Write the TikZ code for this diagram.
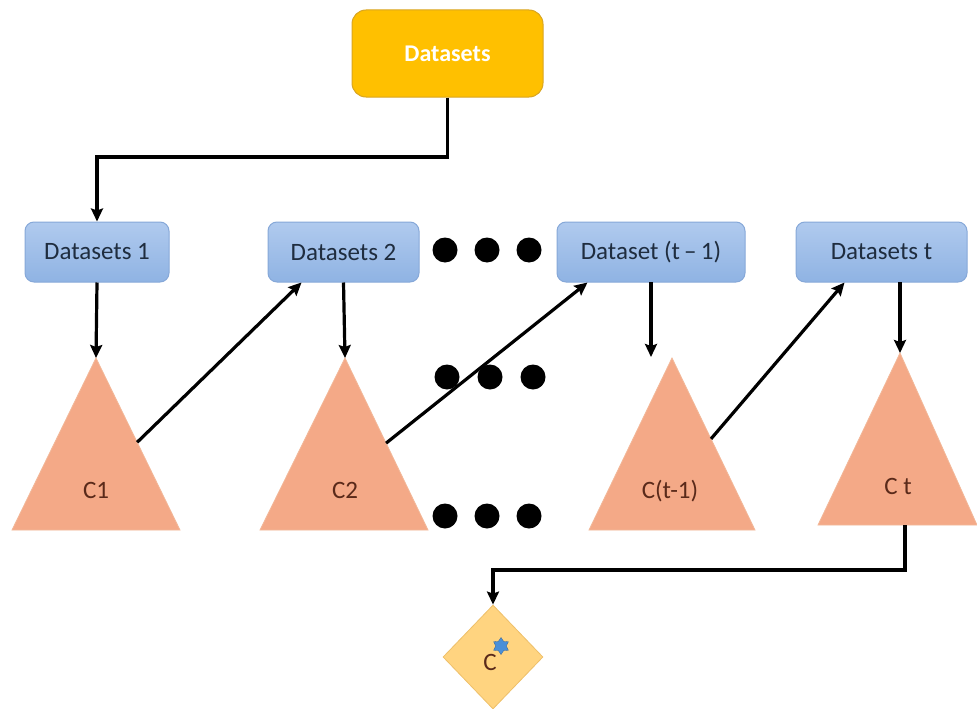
\documentclass[tikz,border=0pt]{standalone}
\usepackage{fontspec}
\setmainfont{Carlito}
\usetikzlibrary{arrows.meta,shapes.geometric,calc}
\definecolor{gold}{HTML}{FFC000}
\definecolor{goldline}{HTML}{D9A520}
\definecolor{bluetop}{HTML}{B0CAEE}
\definecolor{bluebot}{HTML}{8FB3E3}
\definecolor{blueline}{HTML}{86A8D8}
\definecolor{navytext}{HTML}{1F2D3F}
\definecolor{salmon}{HTML}{F4A987}
\definecolor{salmonline}{HTML}{F2B899}
\definecolor{browntext}{HTML}{5A2A1A}
\definecolor{paleorange}{HTML}{FFD480}
\definecolor{paleline}{HTML}{EEC06A}
\definecolor{starblue}{HTML}{4A8FD8}
\begin{document}
\begin{tikzpicture}[x=1pt,y=-1pt,
  font=\fontsize{25}{29}\selectfont,
  topbox/.style={draw=goldline, line width=1pt, fill=gold, rounded corners=14pt,
    minimum width=191pt, minimum height=87pt, text=white, font=\fontsize{24}{28}\selectfont\bfseries},
  bluebox/.style={draw=blueline, line width=1pt, top color=bluetop, bottom color=bluebot,
    rounded corners=9pt, minimum height=60pt, text=navytext, inner sep=0pt},
  tri/.style={fill=salmon, draw=salmonline, line width=0.8pt},
  trilabel/.style={text=browntext},
  arr/.style={-{Stealth[length=13pt,width=12pt,inset=2pt]}, line width=3.2pt, black},
  dot/.style={fill=black}]
\useasboundingbox (0,0) rectangle (977,709);

% top box
\node[topbox] (top) at (447.5,53.5) {Datasets};

% dataset boxes
\node[bluebox, minimum width=144pt] (d1) at (97,252) {Datasets 1};
\node[bluebox, minimum width=151pt] (d2) at (343.5,252) {Datasets 2};
\node[bluebox, minimum width=188pt] (dt1) at (651,252) {Dataset (t\,--\,1)};
\node[bluebox, minimum width=171pt] (dt) at (881.5,252) {Datasets t};

% triangles
\coordinate (c1a) at (96,358);  \coordinate (c1l) at (12,530);  \coordinate (c1r) at (180,530);
\coordinate (c2a) at (345,358); \coordinate (c2l) at (260,530); \coordinate (c2r) at (428,530);
\coordinate (c3a) at (672,358); \coordinate (c3l) at (589,530); \coordinate (c3r) at (755,530);
\coordinate (c4a) at (900,353); \coordinate (c4l) at (818,525); \coordinate (c4r) at (977,525);
\draw[tri] (c1a) -- (c1r) -- (c1l) -- cycle;
\draw[tri] (c2a) -- (c2r) -- (c2l) -- cycle;
\draw[tri] (c3a) -- (c3r) -- (c3l) -- cycle;
\draw[tri] (c4a) -- (c4r) -- (c4l) -- cycle;
\node[trilabel] (c1) at (96,490) {C1};
\node[trilabel] (c2) at (345,490) {C2};
\node[trilabel] (c3) at (670,491) {C(t-1)};
\node[trilabel] (c4) at (898,486) {C t};

% dots
\foreach \x/\n in {445/a,487/b,529/c}{\fill[dot] (\x,250) circle (12.5pt);}
\foreach \x/\n in {447/a,490/b,533/c}{\fill[dot] (\x,377) circle (12.5pt);}
\foreach \x/\n in {445/a,487/b,529/c}{\fill[dot] (\x,516) circle (12.5pt);}

% final diamond
\node[diamond, aspect=1, minimum width=100pt, minimum height=104pt, inner sep=0pt,
  fill=paleorange, draw=paleline, line width=0.8pt] (fin) at (493,657) {};
\node[text=browntext, inner sep=0pt] (finc) at (490,662) {C};
\node[star, star points=6, star point ratio=1.6, minimum size=17pt, inner sep=0pt,
  fill=starblue, draw=starblue!70!black, line width=0.3pt] (finstar) at (501,646) {};

% connector coordinates
\coordinate (bend1) at (0,157);
\coordinate (bend2) at (0,570);
\coordinate (c1o) at ($(c1a)!0.49!(c1r)$);
\coordinate (c2o) at ($(c2a)!0.495!(c2r)$);
\coordinate (c3o) at ($(c3a)!0.47!(c3r)$);
\coordinate (c4o) at (905,525);
\coordinate (d2in) at ($(d2.south west)+(34,0)$);
\coordinate (dt1in) at ($(dt1.south west)+(31,0)$);
\coordinate (dtin) at ($(dt.south west)+(49,0)$);
\coordinate (d1o) at (d1.south);
\coordinate (d2o) at (d2.south);
\coordinate (dt1o) at (651,282);
\coordinate (dt1end) at (651,357);
\coordinate (dto) at (900,282);

% connectors
\draw[arr] (top.south) -- (top.south |- bend1) -| (d1.north);
\draw[arr] (d1o) -- (c1a);
\draw[arr] (c1o) -- (d2in);
\draw[arr] (d2o) -- (c2a);
\draw[arr] (c2o) -- (dt1in);
\draw[arr] (dt1o) -- (dt1end);
\draw[arr] (c3o) -- (dtin);
\draw[arr] (dto) -- (c4a);
\draw[arr] (c4o) -- (c4o |- bend2) -| (fin.north);
\end{tikzpicture}
\end{document}
